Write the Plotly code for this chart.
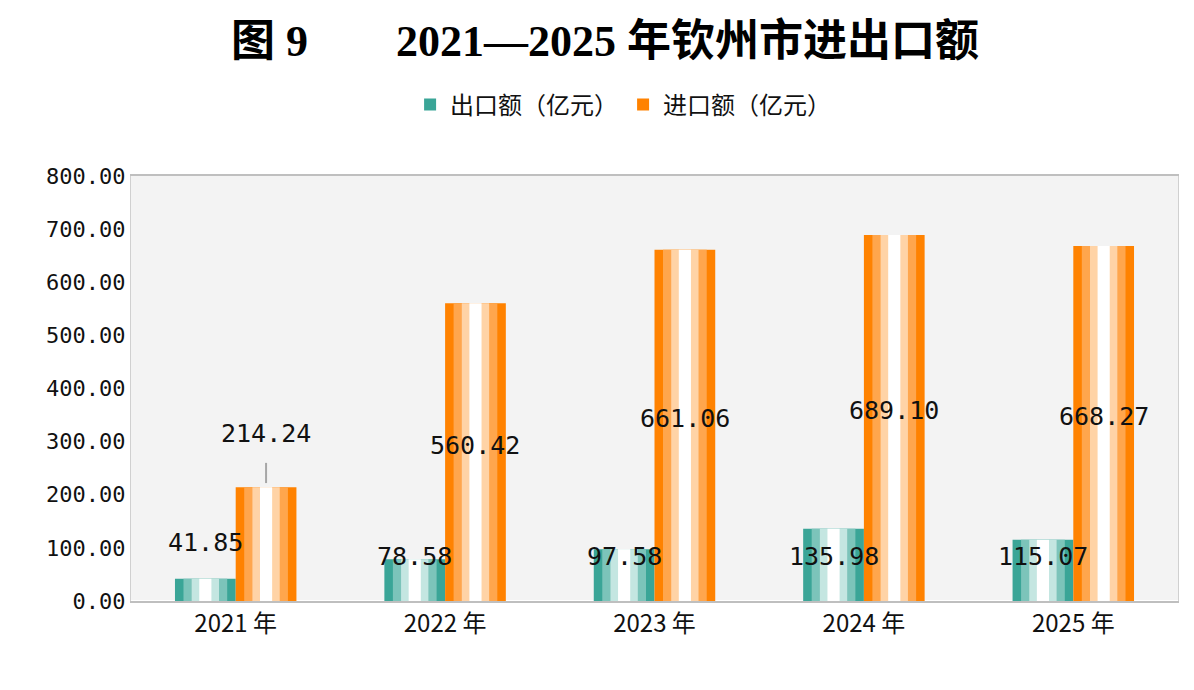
import plotly.graph_objects as go

years = ["2021 年", "2022 年", "2023 年", "2024 年", "2025 年"]
exports = [41.85, 78.58, 97.58, 135.98, 115.07]
imports = [214.24, 560.42, 661.06, 689.10, 668.27]
export_label_y = [111, 83, 83, 83, 83]
import_label_y = [316, 292, 343, 358, 348]
tick_vals = [0, 100, 200, 300, 400, 500, 600, 700, 800]

TEAL = "#3aa597"
ORANGE = "#ff8200"
W = 0.29
MONO = "DejaVu Sans Mono, Noto Sans CJK SC"

fig = go.Figure()

def layered(vals, center, colors, name):
    layers = [(W, colors[0]), (W * 0.72, colors[1]), (W * 0.45, colors[2]), (W * 0.2, "#ffffff")]
    for i, (w, c) in enumerate(layers):
        fig.add_trace(go.Bar(
            x=years, y=vals, name=name, showlegend=(i == 0),
            width=w, offset=center - w / 2, marker=dict(color=c, line_width=0),
            hoverinfo="skip" if i else None))

layered(exports, -W / 2, [TEAL, "#7cc4ba", "#c4e6e1"], "出口额（亿元）")
layered(imports, W / 2, [ORANGE, "#ffa64d", "#ffd3a6"], "进口额（亿元）")

ann = []
for i, y in enumerate(years):
    ann.append(dict(x=i - W / 2, y=export_label_y[i], text=f"{exports[i]:.2f}",
                    showarrow=False, xref="x", yref="y", font=dict(family=MONO, size=25, color="#111")))
    ann.append(dict(x=i + W / 2, y=import_label_y[i], text=f"{imports[i]:.2f}",
                    showarrow=False, xref="x", yref="y", font=dict(family=MONO, size=25, color="#111")))

fig.update_layout(
    width=1194, height=690,
    barmode="overlay",
    paper_bgcolor="white", plot_bgcolor="#f3f3f3",
    font=dict(family="Noto Sans CJK SC, sans-serif", size=22, color="#111"),
    title=dict(text="<b>图 9　　2021—2025 年钦州市进出口额</b>", x=0.5, xanchor="center", y=0.975,
               font=dict(family="Liberation Serif, Noto Sans CJK SC", size=44, color="#000")),
    legend=dict(orientation="h", x=0.47, xanchor="center", y=1.22, yanchor="top",
                font=dict(size=24), itemwidth=30),
    margin=dict(l=123, r=24, t=168, b=97),
    annotations=ann,
    xaxis=dict(type="category", showline=True, linecolor="#bfbfbf", linewidth=1.5, mirror=True,
               ticks="", tickfont=dict(size=24), range=[-0.5, 4.5]),
    yaxis=dict(range=[0, 800], tickvals=tick_vals, tickformat=".2f", showgrid=False,
               showline=True, linecolor="#d0d0d0", mirror=True, ticks="",
               tickfont=dict(family=MONO, size=22)),
)
fig.add_shape(type="line", xref="x", yref="y", x0=0 + W / 2, x1=0 + W / 2, y0=222, y1=260,
              line=dict(color="#a6a6a6", width=2))

fig.write_html("out.html")
